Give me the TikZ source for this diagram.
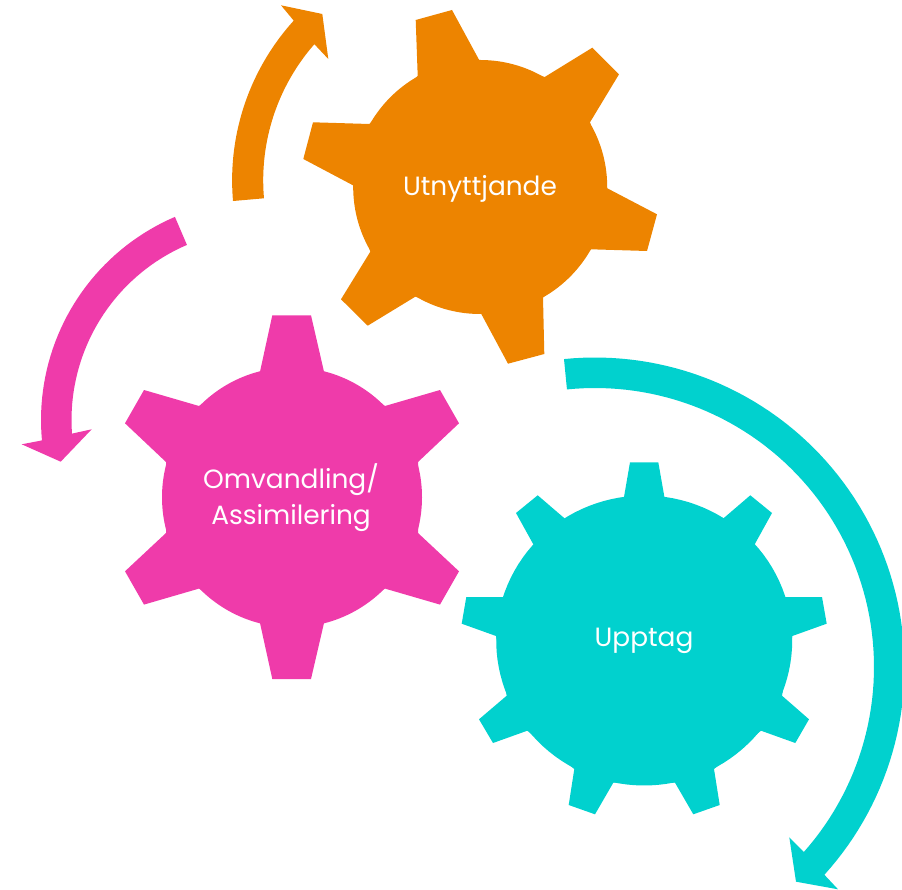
\documentclass[tikz,border=0pt]{standalone}
\usepackage{fontspec}
\setmainfont{Poppins}
\definecolor{orangec}{HTML}{ED8400}
\definecolor{pinkc}{HTML}{EF3BAA}
\definecolor{tealc}{HTML}{01D1CE}
\tikzset{
  gearlabel/.style={text=white,font=\fontsize{26.4}{36.7}\selectfont,inner sep=0pt,align=center},
}
\begin{document}
\begin{tikzpicture}[x=1pt,y=-1pt]
\useasboundingbox (0,0) rectangle (902,890);
% orange gear
\fill[orangec] (480.2,187) circle[radius=127];
\fill[orangec] (415.7,20) -- (452,10) -- (479,59.7) -- (544.7,77) -- (592.3,47.7) -- (619,74.3) -- (590,122.3) -- (607.3,188.3) -- (657,214.3) -- (647,251) -- (591,249.3) -- (543,297.3) -- (544.3,354) -- (508,363.7) -- (481.3,314) -- (415.3,296.7) -- (367.7,325.7) -- (341,299.3) -- (370.3,251.7) -- (353,185.3) -- (303.3,159) -- (313,122.3) -- (369.3,124) -- (417.7,76) -- cycle;
% pink gear
\fill[pinkc] (292,497.3) circle[radius=130];
\fill[pinkc] (272.3,315.3) -- (311,315.3) -- (324,371.7) -- (385,406) -- (440,390) -- (459,423.3) -- (418,462) -- (418,533) -- (459,571.3) -- (440,604.6) -- (385,588.6) -- (324,623) -- (311,679) -- (272.3,679) -- (260,623) -- (199,588.6) -- (144,604.6) -- (125,571.3) -- (166,533) -- (166,462) -- (125,423.3) -- (144,390) -- (199,406) -- (260,371.7) -- cycle;
% teal gear
\fill[tealc] plot[domain=0:360,samples=120] ({644.2+148*cos(\x)},{640.5+145*sin(\x)}) -- cycle;
\fill[tealc] (630,462.3) -- (658.3,462.3) -- (664.7,498.7) -- (722.7,519) -- (750.3,495.3) -- (772,513) -- (754.3,545) -- (785,597) -- (822,597) -- (826.7,623.7) -- (792.3,636) -- (782,695.7) -- (809,719.3) -- (795.3,743) -- (761,730.7) -- (714,769) -- (719.7,805) -- (693.3,814.3) -- (675,782.7) -- (613.3,782.7) -- (595,814.3) -- (568.7,805) -- (574.3,769) -- (527.3,730.7) -- (493,743) -- (479,719.3) -- (506.7,695.7) -- (496,636) -- (461.7,623.7) -- (466.3,597) -- (503.3,597) -- (533.7,545) -- (516,513) -- (537.7,495.3) -- (565.3,519) -- (623.7,498.7) -- cycle;
% orange arrow
\fill[orangec] plot[domain=175:222.2,samples=40] ({469.8+237.7*cos(\x)},{180.3+237.7*sin(\x)}) -- (281,5.3) -- (322.3,14) -- (328.3,59) -- plot[domain=221.2:175,samples=40] ({469.8+206.6*cos(\x)},{180.3+206.6*sin(\x)}) -- cycle;
% pink arrow
\fill[pinkc] plot[domain=246.8:174.7,samples=40] ({262+221*cos(\x)},{420+221*sin(\x)}) -- (21.7,444.3) -- (60.7,461.7) -- (91.7,429.3) -- plot[domain=175.9:246.8,samples=40] ({262+190.5*cos(\x)},{420+190.5*sin(\x)}) -- cycle;
% teal arrow
\begin{scope}
\clip (0,0) rectangle (902,890);
\fill[tealc] plot[domain=-95.75:42.17,samples=80] ({595+309.5*cos(\x)},{667+309.5*sin(\x)}) -- (838,889.3) -- (796,881.7) -- (789.3,837.3) -- plot[domain=41.55:-95.77,samples=80] ({595+279*cos(\x)},{667+279*sin(\x)}) -- cycle;
\end{scope}
% labels
\node[gearlabel,anchor=base] (utn) at (480,195.7) {Utnyttjande};
\node[gearlabel,anchor=base] (upp) at (644,646.7) {Upptag};
\node[gearlabel] (omv) at (291,497.5) {Omvandling/\\Assimilering};
\end{tikzpicture}
\end{document}
